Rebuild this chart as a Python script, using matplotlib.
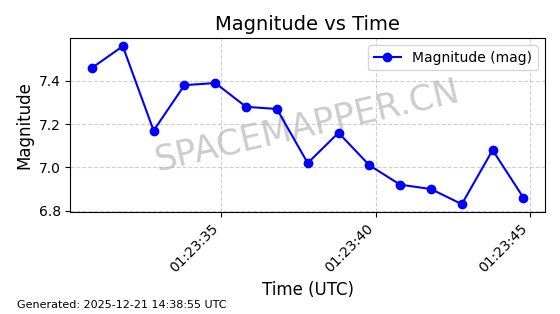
import matplotlib
matplotlib.use("Agg")
import matplotlib.pyplot as plt
import matplotlib.dates as mdates
from datetime import datetime, timedelta

start = datetime(2025, 12, 21, 1, 23, 30, 800000)
offsets_s = [0, 1, 2, 3, 4, 5, 6, 7, 8, 9, 10, 11, 12, 13, 14]
times = [start + timedelta(seconds=s) for s in offsets_s]
magnitudes = [7.46, 7.56, 7.17, 7.38, 7.39, 7.28, 7.27, 7.02, 7.16, 7.01, 6.92, 6.90, 6.83, 7.08, 6.86]

fig, ax = plt.subplots(figsize=(5.6, 3.14), dpi=100)
ax.plot(times, magnitudes, marker='o', color='blue', linestyle='-', label='Magnitude (mag)', zorder=3)
ax.set_title('Magnitude vs Time', fontsize=14)
ax.set_xlabel('Time (UTC)', fontsize=12)
ax.set_ylabel('Magnitude', fontsize=12)
ax.grid(True, linestyle='--', alpha=0.6)
ax.legend(loc='upper right')
ax.xaxis.set_major_formatter(mdates.DateFormatter('%H:%M:%S'))
plt.setp(ax.get_xticklabels(), rotation=45, ha='right')
ax.text(0.5, 0.5, 'SPACEMAPPER.CN', transform=ax.transAxes, fontsize=25,
        color='gray', alpha=0.4, rotation=13, ha='center', va='center', zorder=1)
fig.tight_layout()
fig.text(0.03, 0.02, 'Generated: 2025-12-21 14:38:55 UTC', fontsize=8)
fig.savefig('out.png', dpi=100)
